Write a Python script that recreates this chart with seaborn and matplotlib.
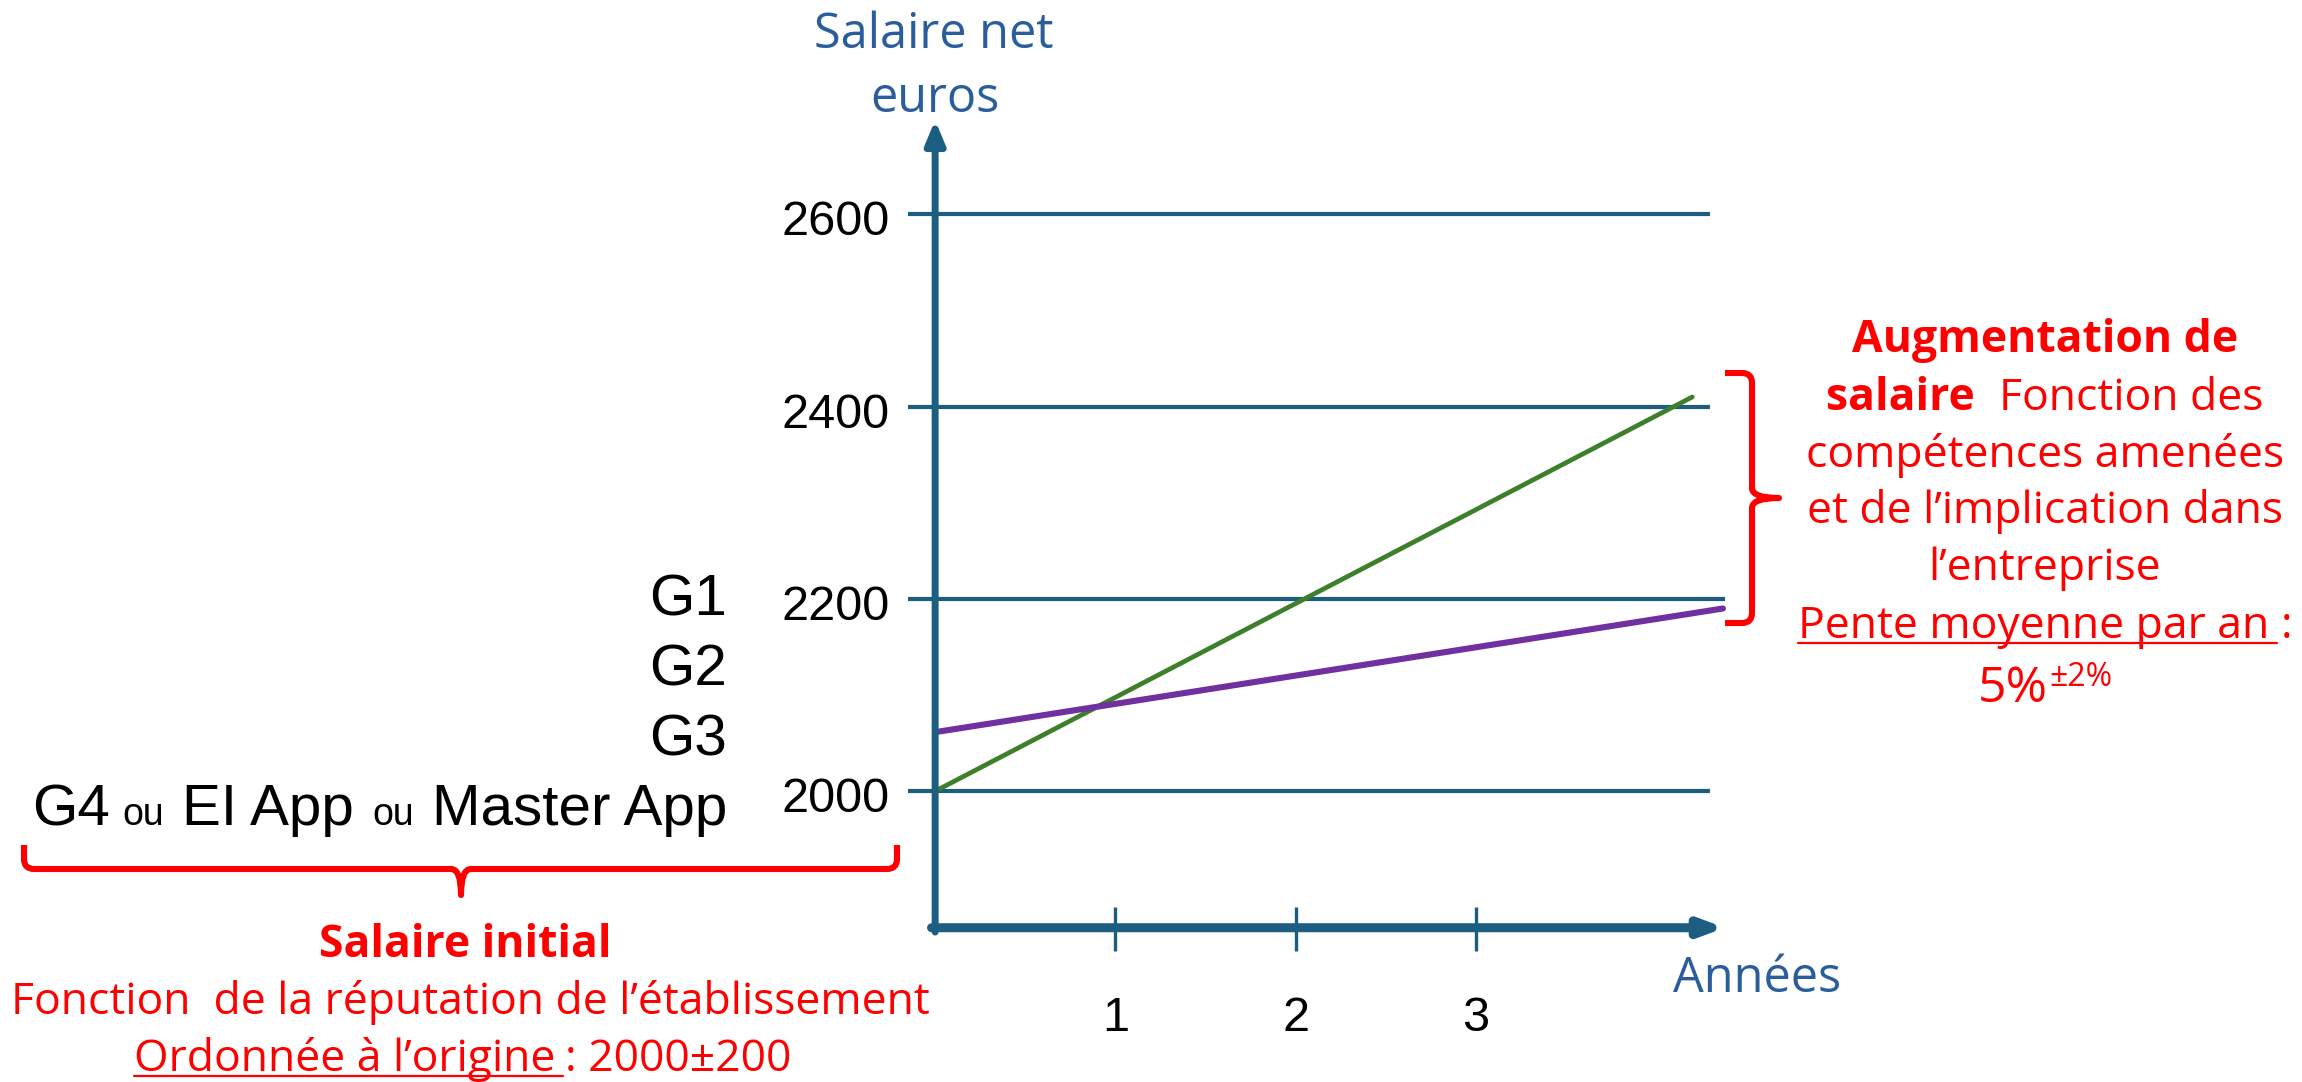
import matplotlib.pyplot as plt
import matplotlib.transforms as mtransforms
from matplotlib.lines import Line2D
from matplotlib.path import Path
from matplotlib.patches import PathPatch
import pandas as pd
import seaborn as sns

W, H = 2302, 1082

# chart values
grid_levels = [2000, 2200, 2400, 2600]
grid_right_end = [4.3, 4.38, 4.3, 4.3]
year_ticks = [1, 2, 3]
year_labels = ["1", "2", "3"]
high_years = [0, 4.2]
high_salary = [2000, 2410]
low_years = [0.02, 4.37]
low_salary = [2062, 2190]
grade_labels = ["G1", "G2", "G3"]
x_axis_level = 1858
y_axis_top = 2698
x_axis_right = 4.38
year_label_level = 1751

AXIS = "#1B5E82"
BLUE = "#2A5D9C"
RED = "#FF0000"
GREEN = "#3E7F2B"
PURPLE = "#7030A0"
SANS = ["Open Sans", "DejaVu Sans"]
ARIAL = ["Liberation Sans", "DejaVu Sans"]

sns.set_theme(style="white")
plt.rcParams['font.family'] = ARIAL

fig = plt.figure(figsize=(W / 100, H / 100), dpi=100)
ax = fig.add_axes([845 / W, 1 - 1079.65 / H, (1836.5 - 845) / W, (1079.65 - 22) / H])

# pixel coordinates measured from the top-left corner
T = mtransforms.Affine2D().scale(1 / W, -1 / H).translate(0, 1) + fig.transFigure
renderer = fig.canvas.get_renderer()

# grid lines and the two salary curves
ax.hlines(grid_levels, -0.15, grid_right_end, color=AXIS, lw=3.0, zorder=1)
high = pd.DataFrame({'annee': high_years, 'salaire': high_salary})
low = pd.DataFrame({'annee': low_years, 'salaire': low_salary})
sns.lineplot(data=high, x='annee', y='salaire', color=GREEN, lw=3.4, ax=ax, zorder=3)
sns.lineplot(data=low, x='annee', y='salaire', color=PURPLE, lw=4.4, ax=ax, zorder=3)
ax.set_xlim(-0.5, 5.0)
ax.set_ylim(1700, 2800)
ax.axis('off')

# axes drawn as arrows
ax.annotate('', xy=(0, y_axis_top), xytext=(0, x_axis_level - 4.5), annotation_clip=False,
            arrowprops=dict(arrowstyle='-|>,head_length=0.7,head_width=0.29', mutation_scale=20,
                            lw=5, color=AXIS, shrinkA=0, shrinkB=0, joinstyle='round'), zorder=5)
ax.annotate('', xy=(x_axis_right, x_axis_level), xytext=(-0.02, x_axis_level), annotation_clip=False,
            arrowprops=dict(arrowstyle='-|>,head_length=0.67,head_width=0.25', mutation_scale=20,
                            lw=6.5, color=AXIS, shrinkA=0, shrinkB=0, joinstyle='round'), zorder=5)
ax.vlines(year_ticks, 1834, 1880, color=AXIS, lw=2.4, zorder=5)

# tick labels
lab_tr = mtransforms.offset_copy(ax.transData, fig=fig, x=0, y=-21, units='dots')
for v in grid_levels:
    ax.text(-0.25, v, str(v), ha='right', va='baseline', fontsize=35, color='black', transform=lab_tr)
for x, s in zip(year_ticks, year_labels):
    ax.text(x, year_label_level, s, ha='center', va='baseline', fontsize=35, color='black')

# axis titles
fig.text(934, 48, "Salaire net", transform=T, ha='center', va='baseline', fontsize=35, color=BLUE, family=SANS)
fig.text(935, 112, "euros", transform=T, ha='center', va='baseline', fontsize=35, color=BLUE, family=SANS)
fig.text(1757, 992, "Années", transform=T, ha='center', va='baseline', fontsize=35, color=BLUE, family=SANS)


def text_row(parts, x, y, ha='center'):
    # parts: (text, kwargs, dy, gap before)
    arts = [fig.text(0, y + dy, s, transform=T, ha='left', va='baseline', **kw) for s, kw, dy, g in parts]
    widths = [a.get_window_extent(renderer).width for a in arts]
    total = sum(widths) + sum(p[3] for p in parts)
    left = x - total / 2 if ha == 'center' else x - total
    for a, w, p in zip(arts, widths, parts):
        left += p[3]
        a.set_x(left)
        left += w
    return arts


def underline(art, extra=8, drop=5):
    bb = art.get_window_extent(renderer)
    y = art.get_position()[1] + drop
    fig.add_artist(Line2D([bb.x0, bb.x1 + extra], [y, y], transform=T, color=RED, lw=1.6))


# grade labels
big = dict(fontsize=42, color='black', family=ARIAL)
small = dict(fontsize=27, color='black', family=ARIAL)
for i, g in enumerate(grade_labels):
    fig.text(727, 616 + 69.5 * i, g, transform=T, ha='right', va='baseline', **big)
text_row([("G4", big, 0, 0), ("ou", small, 0, 12), ("EI App", big, 0, 18),
          ("ou", small, 0, 18), ("Master App", big, 0, 18)], 727, 825, ha='right')

# left annotation
red = dict(fontsize=32, color=RED, family=SANS)
red_b = dict(fontsize=32, color=RED, family=SANS, weight='bold')
fig.text(465, 957, "Salaire initial", transform=T, ha='center', va='baseline', **red_b)
fig.text(470, 1014, "Fonction  de la réputation de l’établissement", transform=T,
         ha='center', va='baseline', **red)
row = text_row([("Ordonnée à l’origine", red, 0, 0), (": 2000±200", red, 0, 10)], 463, 1071)
underline(row[0])

# right annotation
cx = 2045
fig.text(cx, 352, "Augmentation de", transform=T, ha='center', va='baseline', **red_b)
text_row([("salaire", red_b, 0, 0), ("Fonction des", red, 0, 24)], cx, 410)
fig.text(cx, 467, "compétences amenées", transform=T, ha='center', va='baseline', **red)
fig.text(cx, 523, "et de l’implication dans", transform=T, ha='center', va='baseline', **red)
fig.text(cx, 580, "l’entreprise", transform=T, ha='center', va='baseline', **red)
row = text_row([("Pente moyenne par an", red, 0, 0), (":", red, 0, 12)], cx, 638)
underline(row[0])
text_row([("5%", dict(fontsize=36, color=RED, family=SANS), 0, 0),
          ("±2%", dict(fontsize=23, color=RED, family=SANS), -16, 2)], cx, 702)

# curly braces
C3, L, M = Path.CURVE3, Path.LINETO, Path.MOVETO
bottom = [((24, 845), M), ((24, 859), L), ((24, 869), C3), ((34, 869), C3), ((451, 869), L),
          ((461, 869), C3), ((461, 895), C3), ((461, 869), C3), ((471, 869), C3), ((887, 869), L),
          ((897, 869), C3), ((897, 859), C3), ((897, 845), L)]
right = [((1725, 373), M), ((1742, 373), L), ((1752, 373), C3), ((1752, 383), C3), ((1752, 488), L),
         ((1752, 498), C3), ((1779, 498), C3), ((1752, 498), C3), ((1752, 508), C3), ((1752, 613), L),
         ((1752, 623), C3), ((1742, 623), C3), ((1725, 623), L)]
for pts in (bottom, right):
    path = Path([p for p, c in pts], [c for p, c in pts])
    fig.add_artist(PathPatch(path, transform=T, fill=False, edgecolor=RED, lw=4.4,
                             capstyle='butt', joinstyle='round'))

fig.savefig("out.png", dpi=100)
